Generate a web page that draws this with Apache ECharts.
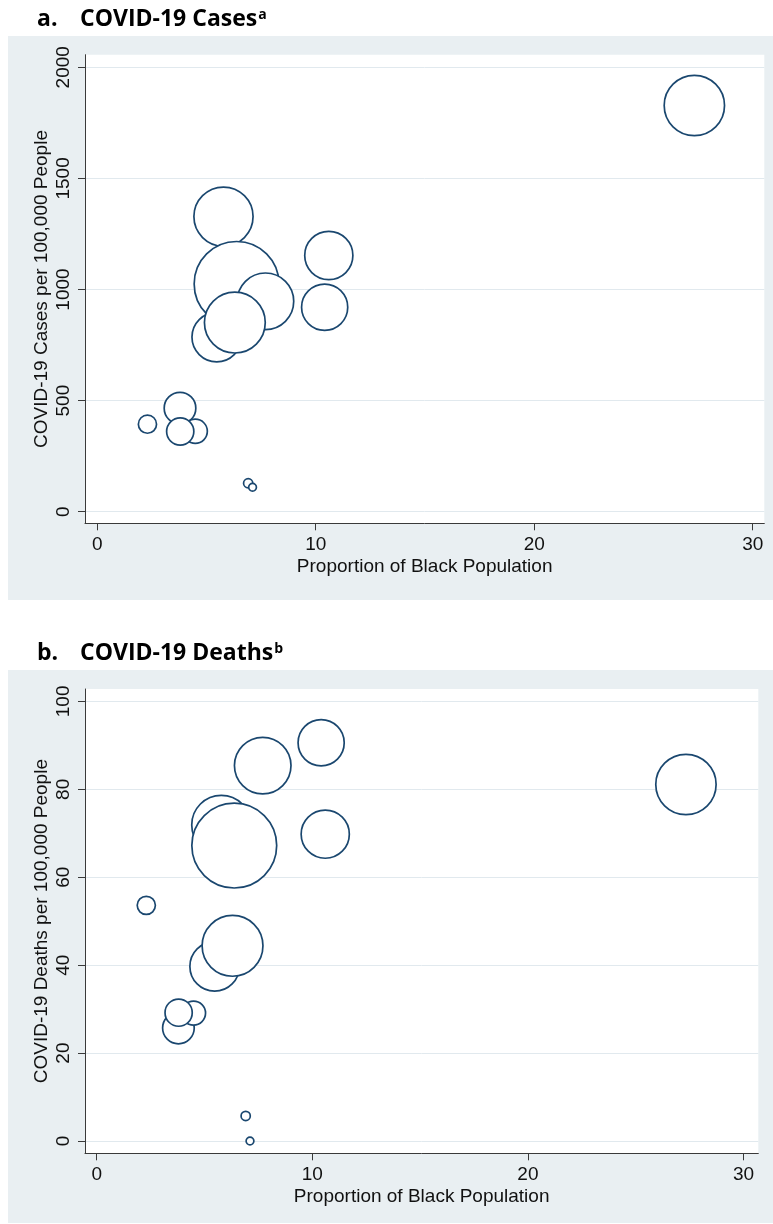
<!DOCTYPE html>
<html>
<head>
<meta charset="utf-8">
<script src="https://cdn.jsdelivr.net/npm/echarts@6/dist/echarts.min.js"></script>
<style>
  html, body { margin: 0; padding: 0; background: #ffffff; }
  #chart { width: 773px; height: 1224px; }
</style>
</head>
<body>
<div id="chart"></div>
<script>
// Proportion of Black population (%) per area
const blackShare = [2.30, 3.79, 4.49, 3.80, 5.78, 6.38, 7.70, 5.47, 6.30, 6.91, 7.11, 10.60, 10.41, 27.33];
// COVID-19 cases per 100,000 people
const casesPer100k = [394, 466, 362, 361, 1328, 1025, 947, 786, 851, 128, 110, 1153, 920, 1828];
// COVID-19 deaths per 100,000 people
const deathsPer100k = [53.6, 25.7, 29.1, 29.2, 71.9, 67.2, 85.4, 39.7, 44.4, 5.7, 0, 69.8, 90.6, 81.1];
// Bubble weight (population)
const popWeight = [3.3, 10.0, 5.8, 7.4, 35, 72, 32, 24.5, 37, 0.85, 0.6, 23.2, 21.3, 36.4];

const shareTicks = [0, 10, 20, 30];
const casesTicks = [0, 500, 1000, 1500, 2000];
const deathsTicks = [0, 20, 40, 60, 80, 100];

const FONT = '"Liberation Sans", Arial, sans-serif';
const TITLE_FONT = '"Open Sans", "Lato", sans-serif';
const NAVY = '#1a476f';
const PANEL = '#e9eff2';
const GRIDLINE = '#e1e9ee';
const AXIS = '#3a3a3a';

function points(yVals) {
  return blackShare.map((x, i) => [x, yVals[i], popWeight[i]]);
}

const plainNumber = v => String(v);

function xAxisDef(gridIndex, min, max) {
  return {
    type: 'value', gridIndex, min, max,
    name: 'Proportion of Black Population',
    nameLocation: 'middle', nameGap: 34,
    nameTextStyle: { fontFamily: FONT, fontSize: 19, color: '#111' },
    axisLine: { onZero: false, lineStyle: { color: AXIS, width: 1 } },
    axisTick: { show: true, length: 7, customValues: shareTicks, lineStyle: { color: AXIS } },
    axisLabel: { customValues: shareTicks, formatter: plainNumber, fontFamily: FONT, fontSize: 19, color: '#111', margin: 12 },
    splitLine: { show: false }
  };
}

function yAxisDef(gridIndex, min, max, ticks, name) {
  return {
    type: 'value', gridIndex, min, max,
    name,
    nameLocation: 'middle', nameGap: 34, nameMoveOverlap: false,
    nameTextStyle: { fontFamily: FONT, fontSize: 19, color: '#111' },
    axisLine: { onZero: false, lineStyle: { color: AXIS, width: 1 } },
    axisTick: { show: true, length: 7, customValues: ticks, lineStyle: { color: AXIS } },
    axisLabel: { customValues: ticks, formatter: plainNumber, rotate: 90, fontFamily: FONT, fontSize: 19, color: '#111', margin: 12 },
    splitLine: { show: true, lineStyle: { color: GRIDLINE, width: 1 } }
  };
}

function bubbleSeries(idx, yVals) {
  return {
    type: 'scatter', xAxisIndex: idx, yAxisIndex: idx,
    data: points(yVals),
    symbol: 'circle',
    symbolSize: v => 10 * Math.sqrt(v[2]),
    itemStyle: { color: '#ffffff', borderColor: NAVY, borderWidth: 1.7, opacity: 1 },
    emphasis: { disabled: true },
    silent: true
  };
}

function panelTitle(letter, text, sup, top) {
  return [
    { text: letter, left: 37, top, padding: 0, textStyle: { fontFamily: TITLE_FONT, fontWeight: 'bold', fontSize: 23, color: '#000' } },
    {
      text: '{m|' + text + '}{s|' + sup + '}', left: 80, top, padding: 0,
      textStyle: {
        rich: {
          m: { fontFamily: TITLE_FONT, fontWeight: 'bold', fontSize: 23, color: '#000' },
          s: { fontFamily: TITLE_FONT, fontWeight: 'bold', fontSize: 14, color: '#000', verticalAlign: 'top', padding: [0, 0, 6, 1] }
        }
      }
    }
  ];
}

const chart = echarts.init(document.getElementById('chart'), null, { renderer: 'canvas' });

chart.setOption({
  animation: false,
  backgroundColor: '#ffffff',
  graphic: [
    { type: 'rect', shape: { x: 8, y: 36, width: 765, height: 564 }, style: { fill: PANEL }, z: -10 },
    { type: 'rect', shape: { x: 8, y: 670, width: 765, height: 553 }, style: { fill: PANEL }, z: -10 }
  ],
  title: [
    ...panelTitle('a.', 'COVID-19 Cases', 'a', 8),
    ...panelTitle('b.', 'COVID-19 Deaths', 'b', 642)
  ],
  grid: [
    { left: 85, top: 54.7, width: 679.3, height: 468.6, show: true, backgroundColor: '#ffffff', borderWidth: 0, containLabel: false },
    { left: 85, top: 689, width: 673.3, height: 464.3, show: true, backgroundColor: '#ffffff', borderWidth: 0, containLabel: false }
  ],
  xAxis: [
    xAxisDef(0, -0.558, 30.531),
    xAxisDef(1, -0.543, 30.686)
  ],
  yAxis: [
    yAxisDef(0, -52.2, 2056.7, casesTicks, 'COVID-19 Cases per 100,000 People'),
    yAxisDef(1, -2.8, 102.82, deathsTicks, 'COVID-19 Deaths per 100,000 People')
  ],
  series: [
    bubbleSeries(0, casesPer100k),
    bubbleSeries(1, deathsPer100k)
  ]
});
</script>
</body>
</html>
